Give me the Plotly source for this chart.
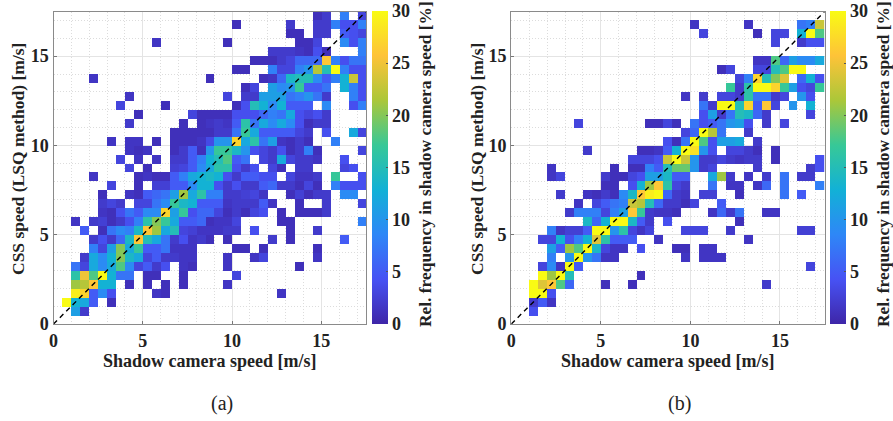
import plotly.graph_objects as go

W, H = 893, 421
# parula colour map
PARULA = ["#3e26a8", "#4752f4", "#2e87f7", "#12b1d6", "#37c897", "#abc739", "#fec338", "#f9fb14"]

speed_bins = [0.25 + 0.5 * i for i in range(35)]
x_label = "Shadow camera speed [m/s]"
y_label = "CSS speed (LSQ method) [m/s]"
cb_label = "Rel. frequency in shadow camera speed [%]"

# rows: y-bin index -> {x-bin index: relative frequency in %}
rows_a = {
 1: {2:11,3:2},
 2: {1:30,2:13,3:12,4:5,6:1},
 3: {2:29,3:27,4:5,5:9,6:4,11:1.5,12:1,25:1.5},
 4: {2:21,3:22,4:26,5:13,6:13,8:1,10:1,12:1,14:1,19:1.5},
 5: {2:16,3:25,4:18,5:30,6:13,7:7,8:7,10:1,11:1,14:1,20:3},
 6: {2:7,3:3,4:12,5:9,6:12,7:18,8:9,9:3,10:5,11:2,12:4,14:1.5,15:1,19:1.5,27:1},
 7: {3:2,4:12,5:9,6:13,7:20,8:14,9:12,10:3,11:5,12:2,13:2,14:1.5,15:1.5,19:1.5,22:1.5,23:3,29:1.5},
 8: {4:8,5:3,6:11,7:20,8:12,9:17,10:5,11:5,12:7,13:1.5,14:1.5,15:1.5,20:1,21:1,23:1,29:1},
 9: {4:2,5:4,6:2,7:6,8:14,9:26,10:15,11:12,12:7,13:2,14:4,15:1.5,16:2,17:1,19:1,24:2,26:1,32:5},
 10: {3:5,5:1,6:7,7:9,8:8,9:14,10:26,11:21,12:12,13:15,14:3,15:2.5,16:1.5,17:1.5,18:1.5,19:2,20:2,22:4,26:1,29:2},
 11: {2:1.5,4:2,5:2.5,6:1,7:2,8:4,9:8,10:16,11:20,12:17,13:12,14:5,15:5,16:6,17:1,18:1.5,19:1.5,20:3,25:1,26:1,34:8},
 12: {5:1.5,6:1,7:4,8:7,9:5,10:9,11:9,12:27,13:11,14:17,15:4,16:6,17:6,18:3,19:1,20:2,21:1,22:3,23:4,25:1,27:1,28:1,29:1,30:2},
 13: {5:2,6:3,7:2,9:3,10:3,11:7,12:9,13:17,14:14,15:13,16:5,17:5,18:5,19:1.5,20:2,21:2,22:2,23:5,24:1.5,27:1,30:2,34:3},
 14: {5:1,8:1.5,9:1,10:5,11:6,12:7,13:11,14:21,15:12,16:16,17:8,18:8,19:2,20:2,21:2.5,22:3,23:1.5,26:1,27:2.5,28:1,29:2,30:2,32:9,33:9},
 15: {6:3,9:1,11:2.5,12:2.5,13:5,14:5,15:9,16:13,17:13,18:4,19:2,20:4,21:2,22:2,23:5,24:6,25:2,26:2,27:1,28:3,29:1,31:8,32:4,33:4,34:4},
 16: {4:1.5,9:1,10:1.5,11:1,12:1,13:5,14:8,15:12,16:13,17:14,18:13,19:4,20:2,21:5,22:5,23:4,24:4,26:3,27:1.5,28:1.5,29:2,31:17,34:4},
 17: {8:3,10:1,13:2.5,14:3,15:5,16:9,17:12,18:16,19:16,20:4,21:2,22:4,24:3,25:1,27:2,28:2,32:3,33:4},
 18: {7:3,9:1.5,11:1.5,13:2,14:2,15:5,16:8,17:13,18:15,19:18,20:5,21:7,23:3,24:2,25:12,26:3,27:2,28:2,29:1.5,32:4},
 19: {8:1.5,9:1,10:1.5,13:1,14:2,15:5,16:1,17:10,18:17,19:17,20:14,21:10,22:4,23:3,24:2,25:4,26:1,27:2,28:8,29:1,34:3},
 20: {6:1.5,8:1.5,9:1.5,11:1,13:1,14:1,15:1,16:1.5,17:3.5,18:10,19:10,20:27,21:12,22:16,23:7,24:11,25:1.5,26:1,27:2,28:1,31:8},
 21: {13:1,14:1,15:1,16:1,17:1,18:2,19:2,20:7,21:17,22:12,23:5,24:5,25:5,26:5,27:3,28:2,30:4,33:12,34:3},
 22: {8:2,14:1,16:1,17:1.5,18:2,19:1.5,20:5,21:16,22:7,23:12,24:9,25:12,26:9,27:4,28:1,29:2,30:2},
 23: {9:1,15:3,16:1,17:1,18:1,19:1,20:4,21:4,22:4,23:6,24:8,25:7,26:12,27:4,28:3,29:4,30:2},
 24: {7:3,12:1,20:1,21:4,22:15,23:13,24:9,25:13,26:5,27:5,28:5,30:9,33:4,34:8},
 25: {8:1.5,19:3,21:2,22:2,23:11,24:11,25:11,26:7,27:8,28:10,29:7,30:2,33:8,34:4},
 26: {21:1,22:3,24:11,25:9,26:10,27:17,28:5,29:5,30:7,32:13,33:8,34:4},
 27: {4:1.5,17:1,23:1,24:1.5,25:6,26:14,27:15,28:15,29:9,30:5,31:8,32:13,33:23,34:4},
 28: {20:1,21:1,24:8,25:3,26:3,27:8,28:10,29:22,30:15,31:30,32:8,33:4,34:4},
 29: {22:1,23:1,24:1,25:2,26:3,27:6,28:6,29:6,30:26,31:8,32:4,33:7,34:7},
 30: {24:2,25:2,26:2,27:1.5,28:1,29:4,30:1,34:8},
 31: {11:1.5,19:1,27:1,28:1,29:3,32:9,33:4,34:8},
 32: {26:1,27:1,29:2,30:2,32:5,33:4,34:3},
 33: {20:1,26:2,29:2,30:2,31:8,32:4,33:4,34:8},
 34: {29:1,30:2,32:8,34:3},
}

rows_b = {
 1: {2:4},
 2: {2:2,3:5,4:1.5},
 3: {2:30,3:30,4:4},
 4: {2:30,3:24,4:26,5:18,6:6,10:1,13:1,28:2},
 5: {3:30,4:21,5:30,6:15,14:1},
 6: {3:3,4:9,5:1.5,6:30,7:5,33:3},
 7: {4:8,6:10,7:30,8:10,9:7,10:1.5,11:1.5,19:1.5,21:1.5,22:1.5,23:1.5},
 8: {4:11,5:5,6:21,7:18,8:30,9:14,10:3,11:1.5,12:1.5,14:4,18:1,19:1,21:1.5,22:1.5},
 9: {3:3,4:3,5:13,6:4,7:8,8:13,9:24,10:16,11:5,12:5,13:5,16:1.5,26:1.5},
 10: {4:8,5:1.5,6:2.5,7:2.5,8:5,9:30,10:30,11:10,12:16,13:3,14:1.5,15:3,19:3,20:3,21:3,24:2,32:2.5,33:2.5},
 11: {8:14,9:6,10:13,11:30,12:30,13:14,14:5,15:2,17:4,25:1},
 12: {6:2,7:8,8:8,9:8,10:3,11:8,12:11,13:26,14:17,15:2,16:1.5,17:1.5,18:1,22:1.5,23:6,24:2,25:7,28:1.5,29:1.5},
 13: {7:1.5,9:3,10:5,11:7,12:8,13:23,14:22,15:15,16:6,17:2,18:2,19:1,20:3,23:5},
 14: {5:2,8:1.5,9:1,10:2,11:1,12:9,13:14,14:26,15:29,16:30,17:6,18:2,19:1.5,21:2.5,22:2.5,25:1,30:7,32:5},
 15: {10:1,11:1,13:4,14:13,15:21,16:26,17:16,18:3,19:2,22:7,24:1.5,25:1.5,27:1.5,28:6,30:7,34:8},
 16: {4:1.5,5:3,10:2,11:1,12:1,13:3,14:4,15:11,16:11,17:14,18:5,19:5,22:12,23:21,24:2,26:1.5,28:2,30:7,32:2,33:2},
 17: {4:1.5,11:1,13:1,14:1,15:8,16:5,17:15,18:19,19:19,20:10,21:2,22:3,27:2,33:2,34:4},
 18: {13:3,14:3,15:3,16:4,17:23,18:30,19:23,20:10,21:2,22:2,23:3,24:2,25:1.5,26:2,27:2,29:1,34:4},
 19: {8:2,14:1,15:1,16:1.5,17:5,18:13,19:30,20:28,21:10,22:4,24:3,25:3,26:2,27:1,29:1},
 20: {17:4,18:1,19:7,20:30,21:18,22:4,23:11,24:11,25:12,27:2},
 21: {19:3,20:6,21:30,22:22,23:7,26:2},
 22: {7:3,15:1,16:1,17:3,18:1,20:7,21:4,22:5,23:7,24:10,25:11,26:4,28:2,30:3},
 23: {21:4,22:11,23:2,24:7,25:15,26:14,27:6,28:2,33:3},
 24: {21:7,22:2,23:30,24:30,25:15,26:27,27:5,28:26,29:3,31:10,33:13},
 25: {19:1.5,21:2,23:3,24:3,25:2,26:16,27:7,28:7,29:2,30:3,32:10,33:4},
 26: {24:17,25:2,26:16,27:30,28:30,29:27,30:17,31:11,32:4,33:3,34:17},
 27: {25:3,26:8,27:27,28:15,29:20,30:24,32:6,33:13,34:4},
 28: {23:1,24:3,27:3,28:3,29:15,30:18,31:30,32:30},
 29: {27:1.5,28:1.5,29:18,30:6,31:11,32:9,33:9,34:12},
 31: {29:3,32:2,33:4,34:4},
 32: {21:3,27:1,29:3,30:3,32:13,33:30,34:18},
 33: {20:1.5,26:1.5,32:7,33:8,34:23},
}


def matrix(rows):
    return [[rows.get(j, {}).get(i) for i in range(35)] for j in range(35)]


scale = [[k / 7, c] for k, c in enumerate(PARULA)]
FONT = "Liberation Serif"
TEXT = "#222"
TOP, BOTTOM = 11.5, 324.0
panels = [(rows_a, 53.5, 366.0, 371.5, "x", "y", "(a)", 222, 18, 425),
          (rows_b, 511.3, 824.7, 829.5, "x2", "y2", "(b)", 679, 477, 883)]

fig = go.Figure()
layout = {}


def note(text, px, py, size, angle=0, bold=True):
    fig.add_annotation(x=px / W, y=(H - py) / H, xref="paper", yref="paper", text=text,
                       showarrow=False, textangle=angle, xanchor="center", yanchor="middle",
                       font=dict(family=FONT, size=size, color=TEXT, weight="bold" if bold else "normal"))


for rows, left, right, cbx, xa, ya, tag, tagx, ylabx, cblabx in panels:
    fig.add_trace(go.Heatmap(
        z=matrix(rows), x=speed_bins, y=speed_bins, xaxis=xa, yaxis=ya,
        colorscale=scale, zmin=0, zmax=30, hoverongaps=False, xgap=0, ygap=0,
        colorbar=dict(
            x=cbx / W, xanchor="left", xpad=0, ypad=0, thickness=15.5, thicknessmode="pixels",
            len=(BOTTOM - TOP) / H, lenmode="fraction", y=(H - BOTTOM) / H, yanchor="bottom",
            tickvals=[0, 5, 10, 15, 20, 25, 30], ticks="inside", ticklen=2, tickcolor="#555",
            tickfont=dict(family=FONT, size=18, color=TEXT, weight="bold"),
            outlinewidth=0,
        )))
    fig.add_trace(go.Scatter(
        x=[0, 17.5], y=[0, 17.5], xaxis=xa, yaxis=ya, mode="lines", showlegend=False,
        line=dict(color="black", width=1.4, dash="5px,4px"), hoverinfo="skip"))
    common = dict(
        range=[0, 17.5], tickvals=[0, 5, 10, 15], ticks="inside", ticklen=3, tickcolor="#777",
        showline=True, mirror=True, linecolor="#8a8a8a", linewidth=1.2, zeroline=False,
        showgrid=True, gridcolor="#e4e4e4", gridwidth=1,
        minor=dict(dtick=1, tick0=0, showgrid=True, gridcolor="#dcdcdc", griddash="1px,2px", gridwidth=1, ticks=""),
        tickfont=dict(family=FONT, size=18, color=TEXT, weight="bold"),
    )
    name_x = xa.replace("x", "xaxis")
    name_y = ya.replace("y", "yaxis")
    layout[name_x] = dict(common, domain=[left / W, right / W], anchor=ya)
    layout[name_y] = dict(common, domain=[(H - BOTTOM) / H, (H - TOP) / H], anchor=xa)
    note(x_label, (left + right) / 2, 361, 18)
    note(y_label, ylabx, 159, 17.5, angle=-90)
    note(cb_label, cblabx, 164, 17.4, angle=-90)
    note(tag, tagx, 403, 20, bold=False)

fig.update_layout(width=W, height=H, margin=dict(l=0, r=0, t=0, b=0, autoexpand=False),
                  paper_bgcolor="white", plot_bgcolor="white", showlegend=False, **layout)
fig.write_html("out.html", config={"displayModeBar": False},
               post_script="document.body.style.margin='0';document.documentElement.style.overflow='hidden';")
